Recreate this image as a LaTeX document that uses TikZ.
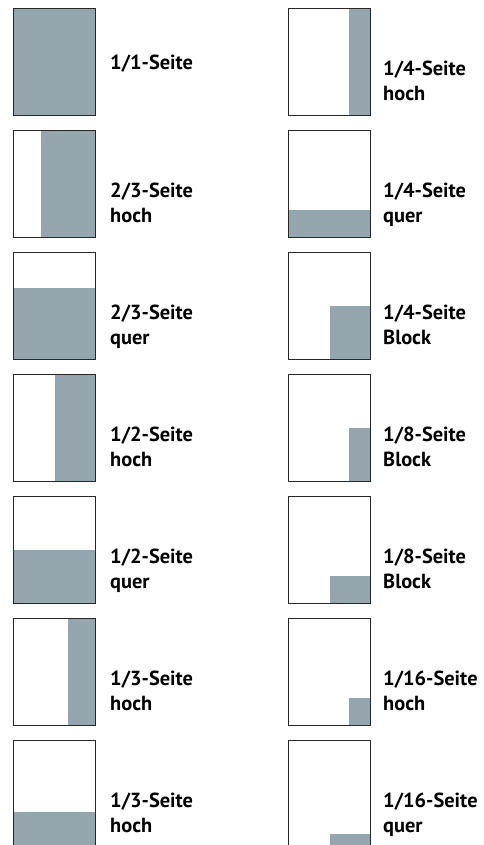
\documentclass[tikz,border=0pt]{standalone}
\usepackage{fontspec}
\setmainfont{PT Sans}
\definecolor{adgray}{RGB}{149,165,173}
\definecolor{pageline}{RGB}{40,40,40}
\begin{document}
\begin{tikzpicture}[x=1pt,y=-1pt,
  lbl/.style={anchor=north west, inner sep=0pt, align=left,
    font=\bfseries\fontsize{20.4}{25}\selectfont},
  pg/.style={draw=pageline, line width=0.9pt},
  ad/.style={fill=adgray}]
\useasboundingbox (0,0) rectangle (483,845);
\def\W{82.4}\def\H{106.5}
% left column
\foreach \i/\a/\b/\dy/\lab in {0/0/0/46/{1/1-Seite},
  1/0.3333/0/52.3/{2/3-Seite\\hoch},
  2/0/0.3333/52.3/{2/3-Seite\\quer},
  3/0.5/0/52.3/{1/2-Seite\\hoch},
  4/0/0.5/52.3/{1/2-Seite\\quer},
  5/0.6667/0/52.3/{1/3-Seite\\hoch},
  6/0/0.6667/52.3/{1/3-Seite\\hoch}}{
  \pgfmathsetmacro{\t}{8.5+122*\i}
  \fill[ad] ({13.3+\a*\W},{\t+\b*\H}) rectangle ({13.3+\W},{\t+\H});
  \draw[pg] (13.3,\t) rectangle ++(\W,\H);
  \node[lbl] (L\i) at (110,{\t+\dy}) {\lab};
}
% right column
\foreach \i/\a/\b/\lab in {0/0.74/0/{1/4-Seite\\hoch},
  1/0/0.75/{1/4-Seite\\quer},
  2/0.5/0.5/{1/4-Seite\\Block},
  3/0.74/0.5/{1/8-Seite\\Block},
  4/0.5/0.75/{1/8-Seite\\Block},
  5/0.74/0.75/{1/16-Seite\\hoch},
  6/0.5/0.875/{1/16-Seite\\quer}}{
  \pgfmathsetmacro{\t}{8.5+122*\i}
  \fill[ad] ({288.3+\a*\W},{\t+\b*\H}) rectangle ({288.3+\W},{\t+\H});
  \draw[pg] (288.3,\t) rectangle ++(\W,\H);
  \node[lbl] (R\i) at (383,{\t+52.3}) {\lab};
}
\end{tikzpicture}
\end{document}
